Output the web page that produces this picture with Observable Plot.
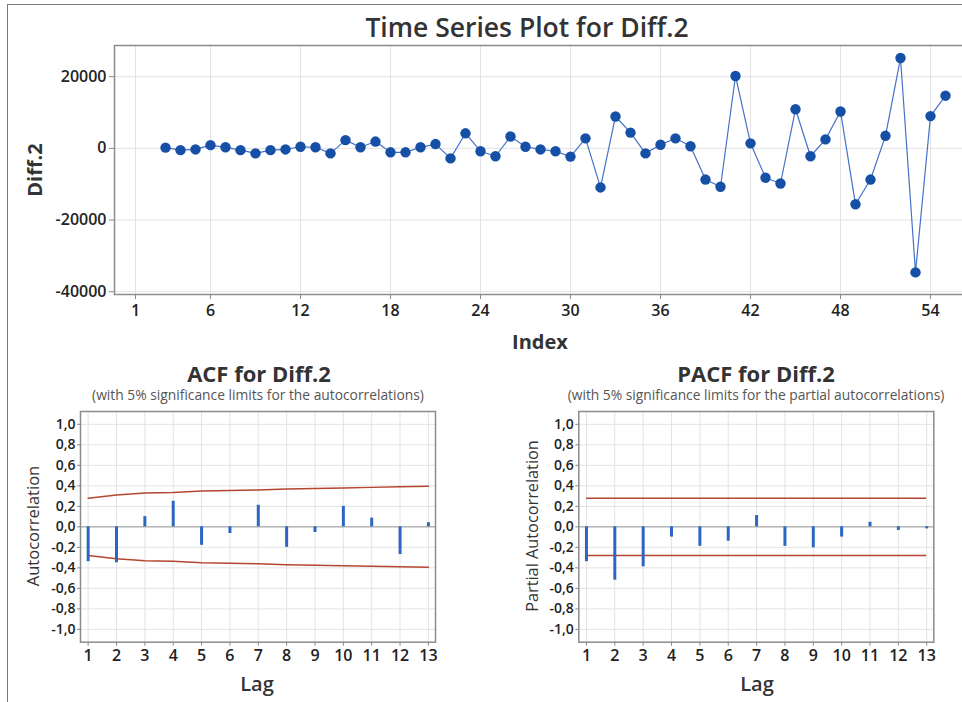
<!DOCTYPE html>
<html><head><meta charset="utf-8">
<script src="https://cdn.jsdelivr.net/npm/d3@7"></script>
<script src="https://cdn.jsdelivr.net/npm/@observablehq/plot@0.6"></script>
<style>
body{margin:0;background:#fff;font-family:"Open Sans",sans-serif;}
#wrap{position:relative;width:962px;height:702px;overflow:hidden;background:#fff;}
.abs{position:absolute;white-space:nowrap;transform:translate(-50%,-50%);color:#222;line-height:1;}
.rot{transform:translate(-50%,-50%) rotate(-90deg);}
.svgbox{position:absolute;}
.svgbox svg{max-width:none !important;}
.frameline{position:absolute;left:7px;top:4px;width:1000px;height:1000px;border-left:1.5px solid #7a7a7a;border-top:1.5px solid #7a7a7a;}
</style></head><body>
<div id="wrap">
  <div class="frameline"></div>
  <div id="top" class="svgbox" style="left:0;top:0"></div>
  <div id="acf" class="svgbox" style="left:0;top:400px"></div>
  <div id="pacf" class="svgbox" style="left:480px;top:400px"></div>
  <div class="abs" style="left:527px;top:27px;font-size:26.5px;font-weight:600;color:#333">Time Series Plot for Diff.2</div>
  <div class="abs" style="left:540px;top:342px;font-size:20px;font-weight:700;color:#333">Index</div>
  <div class="abs rot" style="left:35px;top:170px;font-size:20px;font-weight:700;color:#333">Diff.2</div>
  <div class="abs" style="left:259px;top:373px;font-size:22px;font-weight:700;color:#333">ACF for Diff.2</div>
  <div class="abs" style="left:258px;top:395px;font-size:13.8px;color:#555">(with 5% significance limits for the autocorrelations)</div>
  <div class="abs rot" style="left:33px;top:526px;font-size:16.5px;font-weight:500;color:#333">Autocorrelation</div>
  <div class="abs" style="left:257px;top:684px;font-size:20px;font-weight:600;color:#333">Lag</div>
  <div class="abs" style="left:756px;top:373px;font-size:22px;font-weight:700;color:#333">PACF for Diff.2</div>
  <div class="abs" style="left:756px;top:395px;font-size:13.8px;color:#555">(with 5% significance limits for the partial autocorrelations)</div>
  <div class="abs rot" style="left:532px;top:526px;font-size:16.3px;font-weight:500;color:#333">Partial Autocorrelation</div>
  <div class="abs" style="left:757px;top:684px;font-size:20px;font-weight:600;color:#333">Lag</div>
</div>
<script>
// ---- data ----
const index = [3,4,5,6,7,8,9,10,11,12,13,14,15,16,17,18,19,20,21,22,23,24,25,26,27,28,29,30,31,32,33,34,35,36,37,38,39,40,41,42,43,44,45,46,47,48,49,50,51,52,53,54,55];
const diff2 = [200,-500,-300,900,300,-500,-1400,-500,-300,450,300,-1400,2300,300,1900,-1100,-1100,300,1200,-2800,4200,-800,-2200,3300,450,-300,-800,-2300,2800,-10900,8900,4400,-1400,1000,2800,600,-8700,-10700,20200,1400,-8200,-9800,10900,-2200,2500,10300,-15600,-8700,3500,25200,-34600,9000,14700];
const indexTicks = [1,6,12,18,24,30,36,42,48,54];
const diffTicks = [-40000,-20000,0,20000];

const lags = [1,2,3,4,5,6,7,8,9,10,11,12,13];
const acf = [-0.34,-0.35,0.10,0.25,-0.18,-0.065,0.21,-0.20,-0.055,0.20,0.085,-0.27,0.04];
const acfLimit = [0.28,0.31,0.33,0.335,0.35,0.355,0.36,0.37,0.375,0.38,0.385,0.39,0.395];
const pacf = [-0.34,-0.52,-0.39,-0.10,-0.19,-0.14,0.11,-0.19,-0.205,-0.10,0.045,-0.035,-0.02];
const pacfLimit = 0.28;
const corrTicks = [-1.0,-0.8,-0.6,-0.4,-0.2,0.0,0.2,0.4,0.6,0.8,1.0];

// ---- styles ----
const gridStroke = "#e3e3e3";
const frameStroke = "#8c8c8c";
const tickFill = "#222";
const fmtComma = d => d.toFixed(1).replace(".", ",");

// ---- time series ----
const series = index.map((x, i) => ({index: x, value: diff2[i]}));
const topPlot = Plot.plot({
  width: 975, height: 360,
  marginTop: 45, marginBottom: 66, marginLeft: 114, marginRight: 0,
  style: {fontFamily: "Open Sans", fontWeight: 600, color: tickFill, background: "transparent", maxWidth: "none"},
  x: {domain: [-0.4, 57.0], label: null},
  y: {domain: [-40770, 28700], label: null},
  marks: [
    Plot.gridX(indexTicks, {stroke: gridStroke, strokeOpacity: 1}),
    Plot.gridY(diffTicks, {stroke: gridStroke, strokeOpacity: 1}),
    Plot.axisX(indexTicks, {tickSize: 5, tickPadding: 5, stroke: "#888", fill: tickFill, fontSize: 16, tickFormat: d => String(d), label: null}),
    Plot.axisY(diffTicks, {tickSize: 5, tickPadding: 3, stroke: "#888", fill: tickFill, fontSize: 16, tickFormat: d => String(d), label: null}),
    Plot.line(series, {x: "index", y: "value", stroke: "#4472c8", strokeWidth: 1.2}),
    Plot.dot(series, {x: "index", y: "value", r: 5.2, fill: "#1650a6", stroke: "none"}),
    Plot.frame({stroke: frameStroke, strokeWidth: 1.5})
  ]
});
document.getElementById("top").appendChild(topPlot);

function corrPlot(values, marginLeft, marginRight, width, limitMarks) {
  const bars = lags.map((l, i) => ({lag: l, value: values[i]}));
  return Plot.plot({
    width, height: 300,
    marginTop: 11, marginBottom: 58.3, marginLeft, marginRight,
    style: {fontFamily: "Open Sans", fontWeight: 600, color: tickFill, background: "transparent", maxWidth: "none"},
    x: {domain: [0.73, 13.25], label: null},
    y: {domain: [-1.125, 1.125], label: null},
    marks: [
      Plot.gridX(lags, {stroke: gridStroke, strokeOpacity: 1}),
      Plot.gridY(corrTicks, {stroke: gridStroke, strokeOpacity: 1}),
      Plot.axisX(lags, {tickSize: 4, tickPadding: 3, stroke: "#888", fill: tickFill, fontSize: 16, tickFormat: d => String(d), label: null}),
      Plot.axisY(corrTicks, {tickSize: 3, tickPadding: 2, stroke: "#888", fill: tickFill, fontSize: 14, tickFormat: fmtComma, label: null}),
      Plot.ruleY([0], {stroke: "#9a9a9a", strokeWidth: 1}),
      ...limitMarks,
      Plot.ruleX(bars, {x: "lag", y1: 0, y2: "value", stroke: "#2b66c2", strokeWidth: 3}),
      Plot.frame({stroke: frameStroke, strokeWidth: 1.5})
    ]
  });
}

const red = "#b5452f";
const acfUpper = lags.map((l, i) => ({lag: l, y: acfLimit[i]}));
const acfLower = lags.map((l, i) => ({lag: l, y: -acfLimit[i]}));
document.getElementById("acf").appendChild(corrPlot(acf, 80, 45, 480, [
  Plot.line(acfUpper, {x: "lag", y: "y", stroke: red, strokeWidth: 1.5}),
  Plot.line(acfLower, {x: "lag", y: "y", stroke: red, strokeWidth: 1.5})
]));
document.getElementById("pacf").appendChild(corrPlot(pacf, 98.3, 28.7, 482, [
  Plot.ruleY([pacfLimit, -pacfLimit], {x1: lags[0], x2: lags[lags.length - 1], stroke: red, strokeWidth: 1.5})
]));
</script>
</body></html>
